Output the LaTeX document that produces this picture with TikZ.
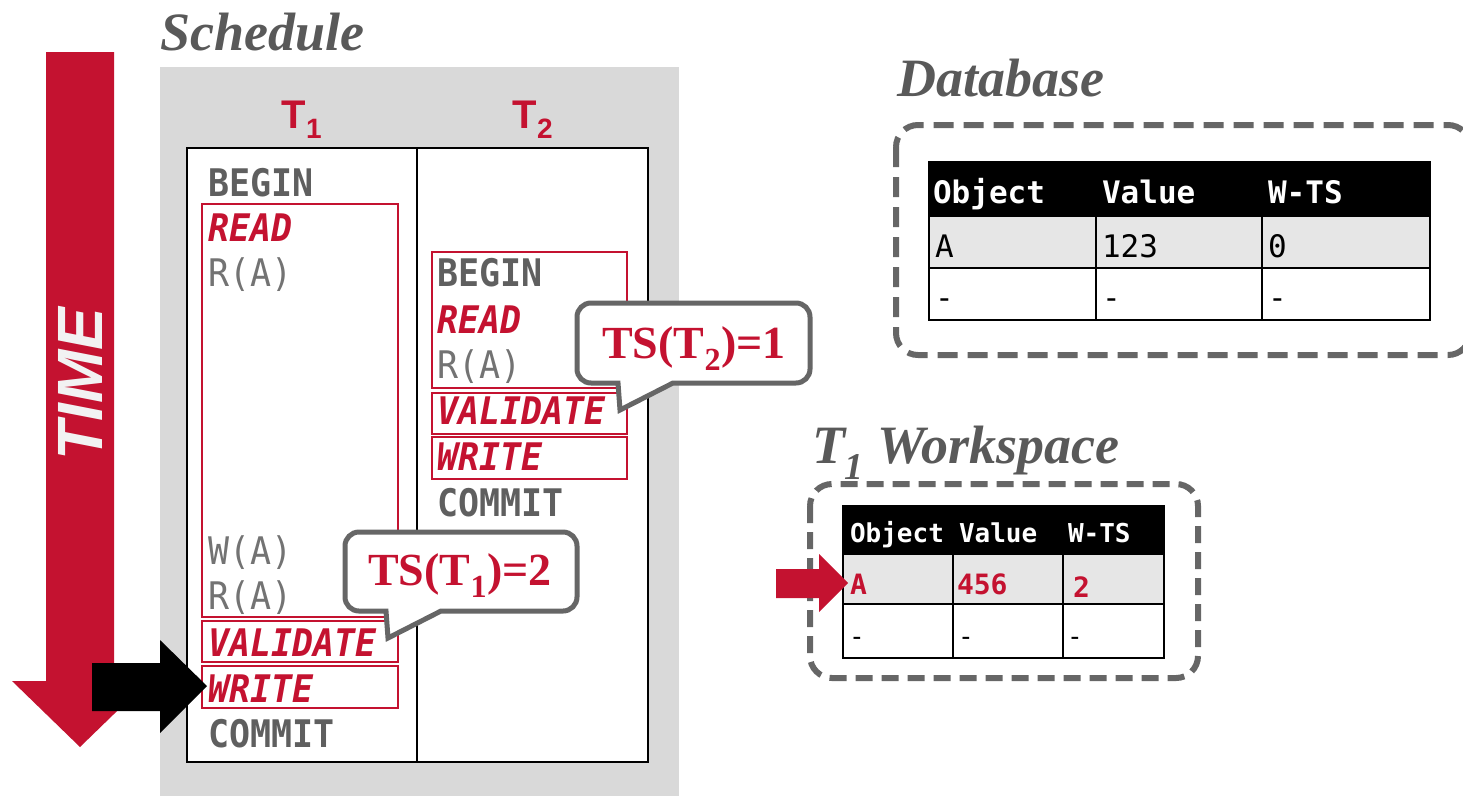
\documentclass[tikz,border=0pt]{standalone}
\usepackage{fontspec}
\setmainfont{Liberation Serif}
\newfontfamily\headfont{Liberation Sans}
\newfontfamily\codefont[FakeStretch=0.92]{DejaVu Sans Mono}
\newfontfamily\cellfont{DejaVu Sans Mono}

\newlength{\du}
\setlength{\du}{1pt}

\definecolor{cmured}{rgb}{0.768627, 0.070588, 0.188235}
\definecolor{titlegray}{rgb}{0.349020, 0.349020, 0.349020}
\definecolor{opgray}{rgb}{0.372549, 0.372549, 0.372549}
\definecolor{accgray}{rgb}{0.450980, 0.450980, 0.450980}
\definecolor{bordergray}{rgb}{0.400000, 0.400000, 0.400000}
\definecolor{schedgray}{rgb}{0.850980, 0.850980, 0.850980}
\definecolor{rowgray}{rgb}{0.901961, 0.901961, 0.901961}
\definecolor{timewhite}{rgb}{0.949020, 0.949020, 0.949020}

\begin{document}
\begin{tikzpicture}[even odd rule,
  title/.style={anchor=base west,inner sep=0pt,outer sep=0pt,text=titlegray,font=\bfseries\itshape\fontsize{54}{54}\selectfont},
  thead/.style={anchor=base,inner sep=0pt,outer sep=0pt,text=cmured,font=\headfont\bfseries\fontsize{40}{40}\selectfont},
  keyword/.style={anchor=base west,inner sep=0pt,outer sep=0pt,text=opgray,font=\codefont\bfseries\fontsize{38}{38}\selectfont},
  access/.style={anchor=base west,inner sep=0pt,outer sep=0pt,text=accgray,font=\codefont\fontsize{38}{38}\selectfont},
  phase/.style={anchor=base west,inner sep=0pt,outer sep=0pt,text=cmured,font=\codefont\bfseries\itshape\fontsize{38}{38}\selectfont},
  phasebox/.style={draw=cmured,line width=1.5\du},
  bubble/.style={draw=bordergray,fill=white,line width=5\du},
  bubbletext/.style={anchor=base,inner sep=0pt,outer sep=0pt,text=cmured,font=\bfseries\fontsize{46}{46}\selectfont},
  dashbox/.style={draw=bordergray,line width=6\du,dash pattern=on 20\du off 10\du,rounded corners=22\du},
  dbhead/.style={anchor=base west,inner sep=0pt,outer sep=0pt,text=white,font=\cellfont\bfseries\fontsize{31}{31}\selectfont},
  dbcell/.style={anchor=base west,inner sep=0pt,outer sep=0pt,text=black,font=\cellfont\fontsize{31}{31}\selectfont},
  wshead/.style={dbhead,font=\cellfont\bfseries\fontsize{26}{26}\selectfont},
  wscell/.style={anchor=base west,inner sep=0pt,outer sep=0pt,text=cmured,font=\cellfont\bfseries\fontsize{28}{28}\selectfont},
  wsblank/.style={dbcell,font=\cellfont\fontsize{26}{26}\selectfont},
  cellrule/.style={draw=black,line width=2\du}]
\pgftransformxscale{1.000000}
\pgftransformyscale{-1.000000}
\useasboundingbox (0\du,0\du) rectangle (1463\du,796\du);

% time arrow
\fill[cmured] (46\du,52\du)--(114\du,52\du)--(114\du,681\du)--(148\du,681\du)--(80\du,747\du)--(12\du,681\du)--(46\du,681\du)--cycle;
\node[rotate=90,inner sep=0pt,outer sep=0pt,text=timewhite,font=\headfont\bfseries\itshape\fontsize{64}{64}\selectfont] (time) at (80\du,384\du){TIME};

% schedule
\node[title] (schedtitle) at (160\du,50\du){Schedule};
\fill[schedgray] (160\du,67\du) rectangle (679\du,796\du);
\node[thead] (t1) at (302\du,128\du){T\textsubscript{1}};
\node[thead] (t2) at (533\du,128\du){T\textsubscript{2}};
\fill[white] (187\du,148\du) rectangle (648\du,762\du);
\draw[cellrule] (187\du,148\du) rectangle (648\du,762\du);
\draw[cellrule] (417\du,148\du)--(417\du,762\du);

% T1 column
\draw[phasebox] (202\du,204\du) rectangle (398\du,617\du);
\draw[phasebox] (202\du,621\du) rectangle (398\du,662\du);
\draw[phasebox] (202\du,666\du) rectangle (398\du,708\du);
\node[keyword] (begin1) at (208\du,196\du){BEGIN};
\node[phase] (read1) at (208\du,241\du){READ};
\node[access] (ra1) at (208\du,286\du){R(A)};
\node[access] (wa1) at (208\du,564\du){W(A)};
\node[access] (rb1) at (208\du,609\du){R(A)};
\node[phase] (validate1) at (208\du,656\du){VALIDATE};
\node[phase] (write1) at (208\du,702\du){WRITE};
\node[keyword] (commit1) at (208\du,747\du){COMMIT};

% T2 column
\draw[phasebox] (432\du,252\du) rectangle (627\du,388\du);
\draw[phasebox] (432\du,393\du) rectangle (627\du,434\du);
\draw[phasebox] (432\du,437\du) rectangle (627\du,479\du);
\node[keyword] (begin2) at (437\du,286\du){BEGIN};
\node[phase] (read2) at (437\du,333\du){READ};
\node[access] (ra2) at (437\du,378\du){R(A)};
\node[phase] (validate2) at (437\du,424\du){VALIDATE};
\node[phase] (write2) at (437\du,470\du){WRITE};
\node[keyword] (commit2) at (437\du,516\du){COMMIT};

% timestamps
\draw[bubble] (620\du,410\du)--(673\du,383\du)[rounded corners=14\du]--(810\du,383\du)--(810\du,303\du)--(577\du,303\du)--(577\du,383\du)[sharp corners]--(618\du,383\du)--cycle;
\node[bubbletext] (ts2) at (694\du,358\du){TS(T\textsubscript{2})=1};
\draw[bubble] (388\du,638\du)--(441\du,611\du)[rounded corners=14\du]--(577\du,611\du)--(577\du,532\du)--(345\du,532\du)--(345\du,611\du)[sharp corners]--(386\du,611\du)--cycle;
\node[bubbletext] (ts1) at (460\du,585\du){TS(T\textsubscript{1})=2};

% current step
\fill[black] (92\du,663\du)--(160\du,663\du)--(160\du,640\du)--(207\du,686\du)--(160\du,733\du)--(160\du,711\du)--(92\du,711\du)--cycle;

% database
\node[title] (dbtitle) at (897\du,96\du){Database};
\draw[dashbox] (896\du,125\du) rectangle (1470\du,355\du);
\fill[black] (929\du,162\du) rectangle (1430\du,216\du);
\fill[rowgray] (929\du,216\du) rectangle (1430\du,268\du);
\fill[white] (929\du,268\du) rectangle (1430\du,320\du);
\draw[cellrule] (929\du,162\du) rectangle (1430\du,320\du);
\draw[cellrule] (929\du,216\du)--(1430\du,216\du);
\draw[cellrule] (929\du,268\du)--(1430\du,268\du);
\draw[cellrule] (1096\du,162\du)--(1096\du,320\du);
\draw[cellrule] (1262\du,162\du)--(1262\du,320\du);
\node[dbhead] (dbobj) at (933\du,203\du){Object};
\node[dbhead] (dbval) at (1102\du,203\du){Value};
\node[dbhead] (dbwts) at (1268\du,203\du){W-TS};
\node[dbcell] (dba) at (935\du,257\du){A};
\node[dbcell] (dbav) at (1102\du,257\du){123};
\node[dbcell] (dbats) at (1268\du,257\du){0};
\node[dbcell] (dbx) at (935\du,308\du){-};
\node[dbcell] (dbxv) at (1102\du,308\du){-};
\node[dbcell] (dbxts) at (1268\du,308\du){-};

% T1 workspace
\node[title] (wstitle) at (812\du,463\du){T\textsubscript{1} Workspace};
\draw[dashbox,dash pattern=on 17\du off 9\du] (810\du,484\du) rectangle (1198\du,678\du);
\fill[black] (843\du,506\du) rectangle (1164\du,554\du);
\fill[rowgray] (843\du,554\du) rectangle (1164\du,604\du);
\fill[white] (843\du,604\du) rectangle (1164\du,658\du);
\draw[cellrule] (843\du,506\du) rectangle (1164\du,658\du);
\draw[cellrule] (843\du,554\du)--(1164\du,554\du);
\draw[cellrule] (843\du,604\du)--(1164\du,604\du);
\draw[cellrule] (953\du,506\du)--(953\du,658\du);
\draw[cellrule] (1063\du,506\du)--(1063\du,658\du);
\node[wshead] (wsobj) at (850\du,542\du){Object};
\node[wshead] (wsval) at (959\du,542\du){Value};
\node[wshead] (wswts) at (1068\du,542\du){W-TS};
\node[wscell] (wsa) at (850\du,594\du){A};
\node[wscell] (wsav) at (957\du,594\du){456};
\node[wscell] (wsats) at (1073\du,597\du){2};
\node[wsblank] (wsx) at (849\du,645\du){-};
\node[wsblank] (wsxv) at (958\du,645\du){-};
\node[wsblank] (wsxts) at (1067\du,645\du){-};

% workspace pointer
\fill[cmured] (776\du,569\du)--(819\du,569\du)--(819\du,554\du)--(848\du,583\du)--(819\du,612\du)--(819\du,598\du)--(776\du,598\du)--cycle;
\end{tikzpicture}
\end{document}
